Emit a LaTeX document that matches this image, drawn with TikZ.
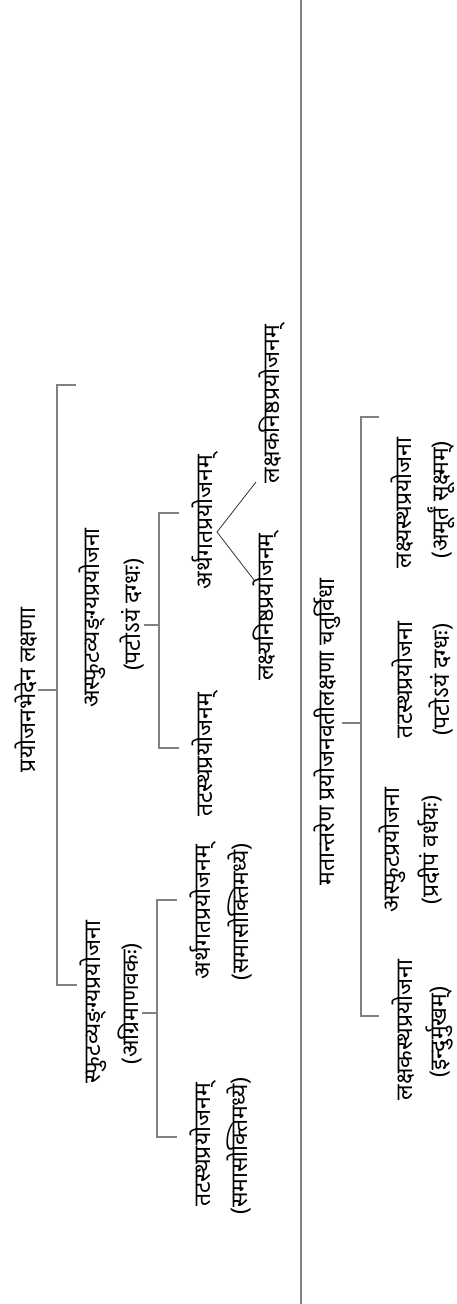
\documentclass[tikz,border=0pt]{standalone}
\usepackage{fontspec}
\newfontfamily\dev[Script=Devanagari]{Noto Sans}
\begin{document}
\begin{tikzpicture}[x=1pt,y=1pt,
  txt/.style={rotate=90,inner sep=0pt,font=\dev\fontsize{23}{26}\selectfont},
  br/.style={draw=black!50,line width=1.2pt},
  diag/.style={draw=black!80,line width=0.8pt}]
\useasboundingbox (0,0) rectangle (457,-1304);
% separator
\coordinate (sepT) at (301,0);
\coordinate (sepB) at (301,-1304);
\draw[br] (sepT) -- (sepB);
% ---------- diagram 1 ----------
\node[txt] (root) at (26,-690) {प्रयोजनभेदेन लक्षणा};
\node[txt] (A) at (92,-618) {अस्फुटव्यङ्ग्यप्रयोजना};
\node[txt] (Ap) at (132,-615) {(पटोऽयं दग्धः)};
\node[txt] (A1) at (205,-522) {अर्थगतप्रयोजनम्};
\node[txt] (A2) at (205,-755) {तटस्थप्रयोजनम्};
\node[txt] (L1) at (272,-404) {लक्षकनिष्ठप्रयोजनम्};
\node[txt] (L2) at (266,-607) {लक्ष्यनिष्ठप्रयोजनम्};
\node[txt] (B) at (93,-1002) {स्फुटव्यङ्ग्यप्रयोजना};
\node[txt] (Bp) at (130,-1004) {(अग्रिमाणवकः)};
\node[txt] (B1) at (203,-912) {अर्थगतप्रयोजनम्};
\node[txt] (B1p) at (240,-912) {(समासोक्तिमध्ये)};
\node[txt] (B2) at (203,-1145) {तटस्थप्रयोजनम्};
\node[txt] (B2p) at (239,-1146) {(समासोक्तिमध्ये)};
% root bracket
\coordinate (rT) at (38,-690);
\coordinate (r1) at (57,-385);
\coordinate (r2) at (57,-985);
\coordinate (r1e) at (76,-385);
\coordinate (r2e) at (77,-985);
\draw[br] (r1e) -- (r1) -- (r2) -- (r2e);
\draw[br] (rT) -- (rT -| r1);
% A bracket
\coordinate (aT) at (144,-625);
\coordinate (a1) at (159,-513);
\coordinate (a2) at (159,-748);
\coordinate (a1e) at (179,-513);
\coordinate (a2e) at (179,-748);
\draw[br] (a1e) -- (a1) -- (a2) -- (a2e);
\draw[br] (aT) -- (aT -| a1);
% diagonals
\coordinate (dv) at (217,-532);
\coordinate (d1) at (256,-482);
\coordinate (d2) at (254,-580);
\draw[diag] (d1) -- (dv) -- (d2);
% B bracket
\coordinate (bT) at (142,-1013);
\coordinate (b1) at (157,-900);
\coordinate (b2) at (157,-1137);
\coordinate (b1e) at (177,-900);
\coordinate (b2e) at (177,-1137);
\draw[br] (b1e) -- (b1) -- (b2) -- (b2e);
\draw[br] (bT) -- (bT -| b1);
% ---------- diagram 2 ----------
\node[txt] (M) at (327,-732) {मतान्तरेण प्रयोजनवतीलक्षणा चतुर्विधा};
\node[txt] (C4) at (402,-503) {लक्ष्यस्थप्रयोजना};
\node[txt] (C4p) at (441,-500) {(अमूर्तं सूक्ष्मम्)};
\node[txt] (C3) at (402,-680) {तटस्थप्रयोजना};
\node[txt] (C3p) at (441,-680) {(पटोऽयं दग्धः)};
\node[txt] (C2) at (392,-850) {अस्फुटप्रयोजना};
\node[txt] (C2p) at (430,-850) {(प्रदीपं वर्धयः)};
\node[txt] (C1) at (403,-1030) {लक्षकस्थप्रयोजना};
\node[txt] (C1p) at (440,-1032) {(इन्दुर्मुखम्)};
\coordinate (mT) at (342,-723);
\coordinate (m1) at (361,-417);
\coordinate (m2) at (361,-1016);
\coordinate (m1e) at (379,-417);
\coordinate (m2e) at (379,-1016);
\draw[br] (m1e) -- (m1) -- (m2) -- (m2e);
\draw[br] (mT) -- (mT -| m1);
\end{tikzpicture}
\end{document}
